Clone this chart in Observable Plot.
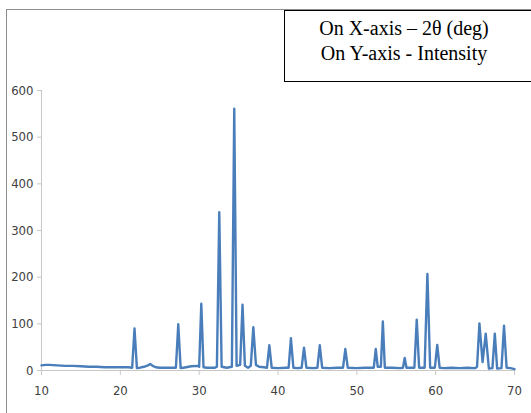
<!DOCTYPE html>
<html>
<head>
<meta charset="utf-8">
<script src="https://cdn.jsdelivr.net/npm/d3@7"></script>
<script src="https://cdn.jsdelivr.net/npm/@observablehq/plot@0.6"></script>
<style>
  html, body { margin: 0; padding: 0; background: #fff; }
  #wrap { position: relative; width: 531px; height: 413px; overflow: hidden; }
  #frame { position: absolute; left: 6px; top: 9px; width: 560px; height: 440px; border-left: 1px solid #8c8c8c; border-top: 1px solid #8c8c8c; box-sizing: border-box; }
  #chart { position: absolute; left: 0; top: 0; }
  #note { position: absolute; left: 284px; top: 10px; width: 260px; height: 72px; border: 1px solid #000; box-sizing: border-box; background: #fff;
          font-family: "Liberation Serif", "Times New Roman", serif; font-size: 20px; color: #000; }
  #note div { position: absolute; left: 0; width: 238px; text-align: center; white-space: nowrap; line-height: 23px; }
</style>
</head>
<body>
<div id="wrap">
  <div id="frame"></div>
  <div id="chart"></div>
  <div id="note"><div style="top:6px">On X-axis – 2θ (deg)</div><div style="top:31px">On Y-axis - Intensity</div></div>
</div>
<script>
// 2θ positions (deg) of the profile points
const twoTheta = [
  10, 10.5, 11, 12, 13, 14, 15, 16, 17, 18, 19, 20, 21, 21.5,
  21.8, 22.1, 22.5, 23, 23.5, 23.8, 24.1, 24.5, 25, 26, 27.05,
  27.35, 27.65, 28, 29, 29.8, 30.0,
  30.27, 30.55, 31, 32, 32.25,
  32.55, 32.85, 33.5, 34.15,
  34.45, 34.75, 35.2,
  35.5, 35.8, 36.2, 36.55,
  36.87, 37.2, 37.6, 38.2, 38.6,
  38.9, 39.2, 40, 41, 41.35,
  41.64, 41.95, 42.5, 43.0,
  43.3, 43.6, 44.5, 45.0,
  45.3, 45.6, 46.5, 47.5, 48.25,
  48.54, 48.85, 50, 51, 52.15,
  52.4, 52.65, 53.05,
  53.3, 53.55, 54.5, 55.5, 55.85,
  56.07, 56.3, 57.3,
  57.6, 57.9, 58.6,
  58.95, 59.3, 59.9,
  60.2, 60.5, 61, 62, 63, 64, 65, 65.25,
  65.55, 65.95,
  66.35, 66.75, 67.2,
  67.5, 67.8, 68.35,
  68.67, 69.0, 69.5, 70
];
// intensities (counts) at those positions
const intensity = [
  11, 12, 12, 11, 10, 10, 9, 8, 8, 7, 7, 7, 7, 6,
  90, 5, 6, 8, 11, 14, 10, 7, 6, 6, 6,
  99, 5, 6, 9, 10, 8,
  143, 7, 6, 6, 8,
  339, 8, 6, 8,
  561, 10, 12,
  141, 10, 6, 10,
  93, 12, 8, 7, 6,
  54, 6, 5, 6, 6,
  69, 6, 5, 6,
  49, 6, 5, 6,
  54, 6, 5, 6, 6,
  46, 6, 5, 6, 6,
  46, 8, 8,
  105, 6, 6, 5, 6,
  27, 6, 6,
  109, 6, 6,
  207, 6, 6,
  55, 6, 5, 6, 5, 6, 5, 8,
  101, 18,
  79, 4, 5,
  79, 4, 5,
  96, 6, 5, 3
];
// axis ticks
const xTicks = [10, 20, 30, 40, 50, 60, 70];
const yTicks = [0, 100, 200, 300, 400, 500, 600];

const data = twoTheta.map((x, i) => ({x, y: intensity[i]}));

const axisFont = '"Liberation Sans Narrow", "Arial Narrow", "DejaVu Sans Condensed", sans-serif';

const chart = Plot.plot({
  width: 531,
  height: 413,
  marginLeft: 41,
  marginRight: 17,
  marginTop: 90,
  marginBottom: 43,
  style: { fontFamily: axisFont, fontSize: "13px", color: "#595959", background: "transparent", overflow: "visible" },
  x: { domain: [10, 70] },
  y: { domain: [0, 600] },
  marks: [
    Plot.ruleX([10], { stroke: "#c8c8c8", strokeWidth: 1 }),
    Plot.ruleY([0], { stroke: "#c8c8c8", strokeWidth: 1 }),
    Plot.axisY({ ticks: yTicks, tickSize: 4, tickPadding: 4, stroke: "#c8c8c8", label: null, fill: "#404040" }),
    Plot.axisX({ ticks: xTicks, tickSize: 5, tickPadding: 10, stroke: "#c8c8c8", label: null, fill: "#404040" }),
    Plot.line(data, { x: "x", y: "y", stroke: "#4a7ebb", strokeWidth: 2.4, strokeLinejoin: "round" })
  ]
});
document.getElementById("chart").appendChild(chart);
</script>
</body>
</html>
